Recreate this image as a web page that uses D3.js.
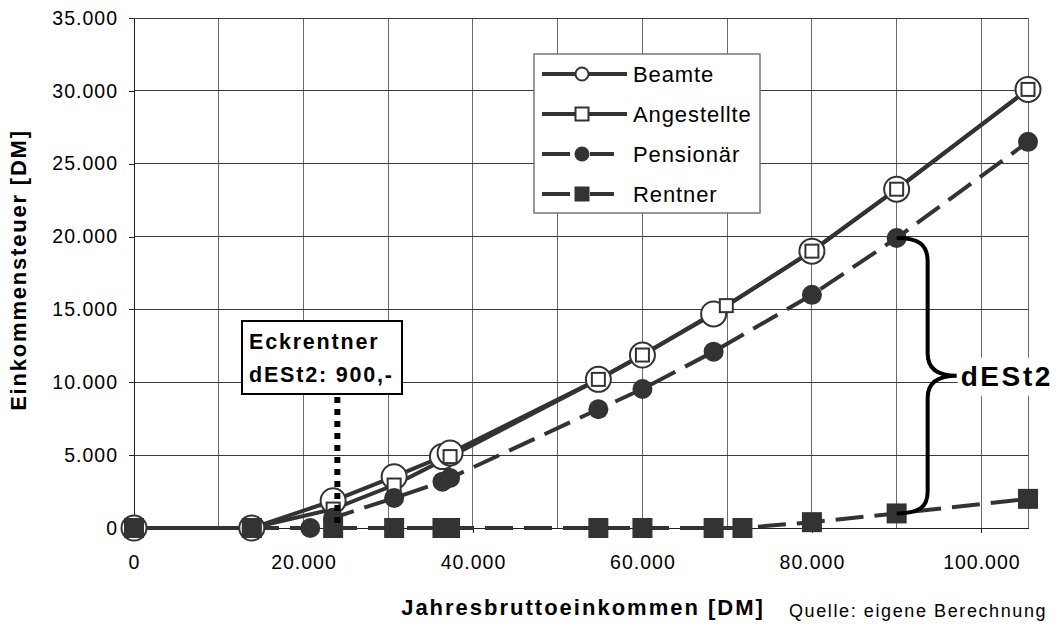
<!DOCTYPE html>
<html>
<head>
<meta charset="utf-8">
<script src="https://cdn.jsdelivr.net/npm/d3@7.9.0/dist/d3.min.js"></script>
<style>
  body { margin: 0; background: #fff; }
  svg text { font-family: "Liberation Sans", Arial, sans-serif; fill: #000; }
</style>
</head>
<body>
<svg id="chart" width="1059" height="624"></svg>
<script>
// values (DM)
const beamteX = [0, 13900, 23500, 30700, 36400, 37300, 54800, 60000, 68400, 80000, 90000, 105500];
const beamteY = [0, 0, 1870, 3520, 4900, 5150, 10200, 11870, 14690, 19000, 23250, 30100];

const angestellteX = [0, 13900, 23500, 30700, 37300, 54800, 60000, 69900, 80000, 90000, 105500];
const angestellteY = [0, 0, 1300, 2950, 4900, 10200, 11870, 15260, 19000, 23250, 30100];

const pensionaerX = [0, 13900, 20800, 23500, 30700, 36400, 37300, 54800, 60000, 68400, 80000, 90000, 105500];
const pensionaerY = [0, 0, 0, 700, 2060, 3180, 3430, 8150, 9540, 12100, 16000, 19900, 26500];

const rentnerX = [0, 13900, 23500, 30700, 36400, 37300, 54800, 60000, 68400, 71800, 80000, 90000, 105500];
const rentnerY = [0, 0, 0, 0, 0, 0, 0, 0, 0, 0, 400, 1000, 2000];

const seriesNames = ["Beamte", "Angestellte", "Pensionär", "Rentner"];
const xTicks = [0, 20000, 40000, 60000, 80000, 100000];
const yTicks = [0, 5000, 10000, 15000, 20000, 25000, 30000, 35000];

// Eckrentner annotation
const eckX = 24000;
const eckLines = ["Eckrentner", "dESt2: 900,-"];
const braceX = 90000, braceTop = 19900, braceBottom = 1000;

const zip = (xs, ys) => xs.map((v, i) => ({ x: v, y: ys[i] }));
const series = [
  { name: seriesNames[0], data: zip(beamteX, beamteY), dash: null, marker: "circle", filled: false },
  { name: seriesNames[1], data: zip(angestellteX, angestellteY), dash: null, marker: "square", filled: false },
  { name: seriesNames[2], data: zip(pensionaerX, pensionaerY), dash: "28,11", marker: "circle", filled: true },
  { name: seriesNames[3], data: zip(rentnerX, rentnerY), dash: "28,11", marker: "square", filled: true }
];

const ink = "#333";
const svg = d3.select("#chart");

const x = d3.scaleLinear().domain([0, 105500]).range([134, 1028]);
const y = d3.scaleLinear().domain([0, 35000]).range([528, 18]);

const loc = d3.formatLocale({ decimal: ",", thousands: ".", grouping: [3], currency: ["", ""] });
const fmt = loc.format(",d");

// grid
const grid = svg.append("g").attr("shape-rendering", "crispEdges");
grid.selectAll("line.v")
  .data(x.ticks(10).filter(d => d > 0))
  .join("line").attr("class", "v")
  .attr("x1", d => x(d)).attr("x2", d => x(d))
  .attr("y1", y(35000)).attr("y2", y(0))
  .attr("stroke", "#6a6a6a");
grid.selectAll("line.h")
  .data(yTicks.filter(d => d > 0))
  .join("line").attr("class", "h")
  .attr("x1", x(0)).attr("x2", x(105500))
  .attr("y1", d => y(d)).attr("y2", d => y(d))
  .attr("stroke", "#3a3a3a");
grid.append("line")
  .attr("x1", x(105500)).attr("x2", x(105500))
  .attr("y1", y(35000)).attr("y2", y(0))
  .attr("stroke", "#6a6a6a");

// axes
const yAxis = svg.append("g")
  .attr("transform", `translate(${x(0)},0)`)
  .call(d3.axisLeft(y).tickValues(yTicks).tickFormat(fmt).tickSize(5).tickSizeOuter(0).tickPadding(11));
const xAxis = svg.append("g")
  .attr("transform", `translate(0,${y(0)})`)
  .call(d3.axisBottom(x).tickValues(xTicks).tickFormat(fmt).tickSize(5).tickSizeOuter(0).tickPadding(22));
[yAxis, xAxis].forEach(a => {
  a.attr("shape-rendering", "crispEdges");
  a.selectAll("path, line").attr("stroke", "#222");
  a.selectAll("text").attr("font-size", 19.5).attr("letter-spacing", 1).attr("fill", "#000")
    .style("font-family", "'Liberation Sans', Arial, sans-serif");
});

// lines
const line = d3.line().x(d => x(d.x)).y(d => y(d.y));
svg.append("g").selectAll("path")
  .data(series)
  .join("path")
  .attr("d", d => line(d.data))
  .attr("fill", "none")
  .attr("stroke", ink)
  .attr("stroke-width", 4)
  .attr("stroke-dasharray", d => d.dash);

// markers
function marker(g, s, size) {
  if (s.marker === "circle") {
    g.append("circle").attr("r", size)
      .attr("fill", s.filled ? ink : "#fff")
      .attr("stroke", s.filled ? "none" : ink).attr("stroke-width", 2);
  } else {
    g.append("rect").attr("x", -size).attr("y", -size)
      .attr("width", size * 2).attr("height", size * 2)
      .attr("fill", s.filled ? ink : "#fff")
      .attr("stroke", s.filled ? "none" : ink).attr("stroke-width", 2);
  }
}
const markerSize = [12.5, 6.5, 10, 10];
series.forEach((s, i) => {
  svg.append("g").selectAll("g")
    .data(s.data)
    .join("g")
    .attr("transform", d => `translate(${x(d.x)},${y(d.y)})`)
    .each(function () { marker(d3.select(this), s, markerSize[i]); });
});

// Eckrentner box + dotted line
const boxX = 242, boxY = 321, boxW = 160, boxH = 73;
svg.append("line")
  .attr("x1", x(eckX)).attr("x2", x(eckX))
  .attr("y1", boxY + boxH + 3).attr("y2", y(0))
  .attr("stroke", "#000").attr("stroke-width", 6)
  .attr("stroke-dasharray", "6,6");
svg.append("rect")
  .attr("x", boxX).attr("y", boxY).attr("width", boxW).attr("height", boxH)
  .attr("fill", "#fff").attr("stroke", "#000").attr("stroke-width", 2);
svg.append("g").selectAll("text")
  .data(eckLines)
  .join("text")
  .attr("x", boxX + 7)
  .attr("y", (d, i) => boxY + 28 + i * 33)
  .attr("font-size", 21.5).attr("font-weight", "bold").attr("letter-spacing", 1.8)
  .text(d => d);

// brace for dESt2
const bx = x(braceX), bt = y(braceTop), bb = y(braceBottom);
const bm = (bt + bb) / 2, bc = bx + 31, tip = bx + 60;
svg.append("path")
  .attr("d", `M${bx},${bt} C${bx + 22},${bt} ${bc},${bt + 6} ${bc},${bt + 24}
              L${bc},${bm - 22} C${bc},${bm - 6} ${bc + 12},${bm} ${tip},${bm}
              C${bc + 12},${bm} ${bc},${bm + 6} ${bc},${bm + 22}
              L${bc},${bb - 22} C${bc},${bb - 6} ${bx + 22},${bb} ${bx},${bb}`)
  .attr("fill", "none").attr("stroke", "#000").attr("stroke-width", 4);
svg.append("rect")
  .attr("x", tip + 1).attr("y", bm - 18).attr("width", 100).attr("height", 38)
  .attr("fill", "#fff");
svg.append("text")
  .attr("x", tip + 4).attr("y", bm + 10)
  .attr("font-size", 28).attr("font-weight", "bold").attr("letter-spacing", 2.6)
  .text("dESt2");

// legend
const lg = svg.append("g").attr("transform", "translate(534,54)");
lg.append("rect").attr("width", 226).attr("height", 159)
  .attr("fill", "#fff").attr("stroke", "#777").attr("stroke-width", 1.5);
const legSize = [6.5, 6.5, 7.5, 7.5];
series.forEach((s, i) => {
  const row = lg.append("g").attr("transform", `translate(0,${20 + i * 40})`);
  if (s.dash) {
    row.append("line").attr("x1", 8).attr("x2", 36).attr("stroke", ink).attr("stroke-width", 4);
    row.append("line").attr("x1", 56).attr("x2", 80).attr("stroke", ink).attr("stroke-width", 4);
  } else {
    row.append("line").attr("x1", 8).attr("x2", 93).attr("stroke", ink).attr("stroke-width", 4);
  }
  const m = row.append("g").attr("transform", "translate(48,0)");
  marker(m, s, legSize[i]);
  row.append("text").attr("x", 99).attr("dy", "0.35em")
    .attr("font-size", 22).attr("letter-spacing", 0.9).text(s.name);
});

// axis titles
svg.append("text")
  .attr("transform", "translate(26,270) rotate(-90)")
  .attr("text-anchor", "middle")
  .attr("font-size", 22).attr("font-weight", "bold").attr("letter-spacing", 1.8)
  .text("Einkommensteuer [DM]");
svg.append("text")
  .attr("x", 583).attr("y", 615)
  .attr("text-anchor", "middle")
  .attr("font-size", 22).attr("font-weight", "bold").attr("letter-spacing", 2)
  .text("Jahresbruttoeinkommen [DM]");
svg.append("text")
  .attr("x", 789).attr("y", 617)
  .attr("font-size", 18).attr("letter-spacing", 1.6)
  .text("Quelle: eigene Berechnung");
</script>
</body>
</html>
